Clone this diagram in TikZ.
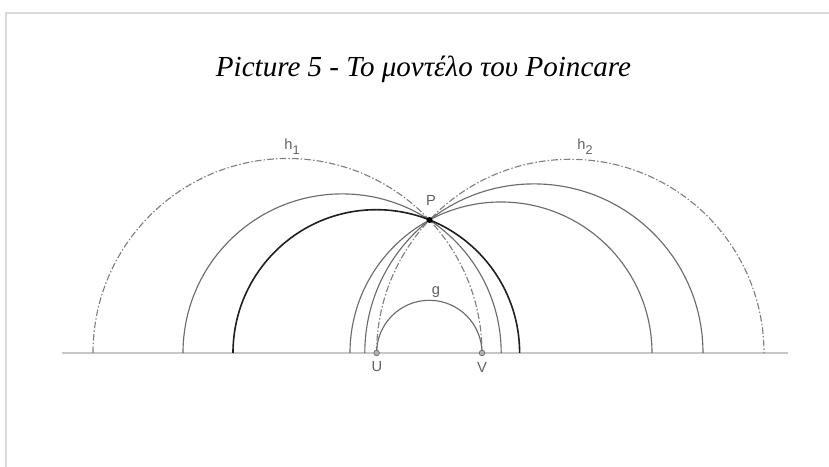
\documentclass[tikz,border=0pt]{standalone}
\usepackage{fontspec}
\setmainfont{Liberation Serif}
\newfontfamily\lblfont{Liberation Sans}
\newcommand{\lowsub}[1]{\raisebox{-0.32em}{\fontsize{9.5}{10}\selectfont #1}}
\begin{document}
\begin{tikzpicture}[x=0.75pt,y=0.75pt,
  frameline/.style={draw=black!15,line width=1.5pt},
  baseline/.style={draw=black!22,line width=1.5pt},
  geo/.style={draw=black!58,line width=0.85pt},
  geobold/.style={draw=black!88,line width=1.2pt},
  limit/.style={draw=black!50,line width=0.85pt,dash pattern=on 5pt off 1.6pt on 1.1pt off 1.6pt},
  lbl/.style={font=\lblfont\fontsize{11}{13}\selectfont,text=black!62,inner sep=0pt},
  title/.style={font=\itshape\fontsize{21.8}{26}\selectfont,inner sep=0pt,anchor=base},
  foot/.style={circle,draw=black!60,fill=black!30,line width=0.5pt,minimum size=4.2pt,inner sep=0pt},
  pdot/.style={circle,fill=black,minimum size=4.5pt,inner sep=0pt}]
\useasboundingbox (0,0) rectangle (829,467);
% frame
\draw[frameline] (6,0) -- (6,454.3) -- (829,454.3);
% title
\node[title] (ttl) at (423.5,390) {Picture 5 - Το μοντέλο του Poincare};
% boundary line
\coordinate (lineL) at (62,114);
\coordinate (lineR) at (788,114);
\draw[baseline] (lineL) -- (lineR);
% limit parallels h1, h2
\draw[limit] (93,114) arc[start angle=180,end angle=0,radius=194.5];
\draw[limit] (376.6,114) arc[start angle=180,end angle=0,radius=193.7];
% other lines through P
\draw[geo] (183,114) arc[start angle=180,end angle=0,radius=159.1];
\draw[geobold] (233,114) arc[start angle=180,end angle=0,radius=143.3];
\draw[geo] (364.8,114) arc[start angle=180,end angle=0,radius=169.1];
\draw[geo] (350,114) arc[start angle=180,end angle=0,radius=151];
% line g
\draw[geo] (376.6,114) arc[start angle=180,end angle=0,radius=52.7];
% points
\node[foot] (U) at (376.6,114) {};
\node[foot] (V) at (482,114) {};
\node[pdot] (P) at (429.5,247) {};
% labels
\node[lbl] (Ulbl) at (377,100) {U};
\node[lbl] (Vlbl) at (482,100) {V};
\node[lbl] (Plbl) at (431,267) {P};
\node[lbl] (glbl) at (436,175) {g};
\node[lbl] (h1lbl) at (292,320) {h\lowsub{1}};
\node[lbl] (h2lbl) at (585,320) {h\lowsub{2}};
\end{tikzpicture}
\end{document}
